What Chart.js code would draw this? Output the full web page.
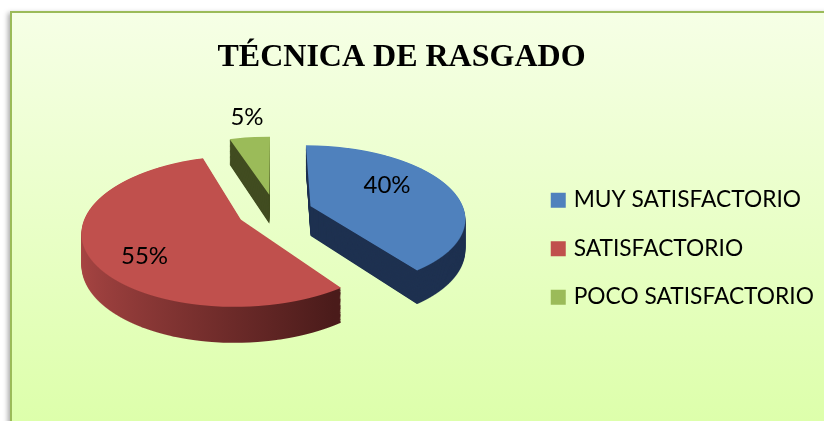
<!DOCTYPE html>
<html>
<head>
<meta charset="utf-8">
<style>html,body{margin:0;padding:0;background:#fff}canvas{display:block}</style>
<script src="https://cdn.jsdelivr.net/npm/chart.js@4"></script>
</head>
<body>
<canvas id="c" width="824" height="421"></canvas>
<script>
const categories = ['MUY SATISFACTORIO', 'SATISFACTORIO', 'POCO SATISFACTORIO'];
const values = [40, 55, 5];
const titleText = 'TÉCNICA DE RASGADO';
const faceColors = ['#4F81BD', '#C0504D', '#9BBB59'];

// perspective of the tilted pie
const view = { cx: 275, cy: 211.5, sx: 154, sy: 71.5, persp: 0.15, depth: 30, explode: 0.245 };
const labelAnchors = [[387, 185], [144.5, 256], [247, 117]];

function drawFace(ctx, arc, z, fill) {
  const R = arc.outerRadius, mid = (arc.startAngle + arc.endAngle) / 2;
  const ex = Math.cos(mid) * view.explode * R, ey = Math.sin(mid) * view.explode * R;
  const saved = arc.options;
  arc.options = Object.assign({}, saved, { backgroundColor: fill, borderWidth: 0 });
  const zd = z * view.depth;
  for (let y = 100; y < 380; y++) {
    const ry = y + 0.5 - view.cy;
    const Y = (ry - zd) / (view.sy + view.persp * ry);
    if (Math.abs(Y * R - ey) > R + 1) continue;
    const w = 1 / (1 - view.persp * Y);
    const a = view.sx * w / R;
    const d = (view.sy + view.persp * zd) * w * w / R;
    ctx.save();
    ctx.beginPath();
    ctx.rect(0, y, 824, 1);
    ctx.clip();
    ctx.setTransform(a, 0, 0, d, view.cx + a * (ex - arc.x), view.cy + ry + d * (ey - arc.y - Y * R));
    arc.draw(ctx);
    ctx.restore();
  }
  arc.options = saved;
}

const pie3d = {
  id: 'pie3d',
  beforeDraw(chart) {
    const ctx = chart.ctx;
    ctx.save();
    ctx.fillStyle = '#fff';
    ctx.fillRect(0, 0, 824, 421);
    const g = ctx.createLinearGradient(0, 12, 0, 421);
    g.addColorStop(0, '#F6FFE6');
    g.addColorStop(1, '#DDFFAB');
    ctx.shadowColor = 'rgba(0,0,0,0.35)';
    ctx.shadowBlur = 5;
    ctx.shadowOffsetX = -2;
    ctx.shadowOffsetY = 2;
    ctx.fillStyle = '#9BBB59';
    ctx.fillRect(10, 11, 830, 420);
    ctx.shadowColor = 'transparent';
    ctx.fillStyle = g;
    ctx.fillRect(12, 13, 830, 420);
    ctx.restore();
  },
  afterLayout(chart) {
    const lg = chart.legend;
    lg.left = 528.5;
    lg.top = 163;
    lg.right = 824;
    lg.bottom = 421;
  },
  beforeDatasetDraw(chart, args) {
    const ctx = chart.ctx, arcs = chart.getDatasetMeta(args.index).data;
    const R = arcs[0].outerRadius, ax = arcs[0].x;
    const redSide = ctx.createLinearGradient(ax - R, 0, ax + R * 0.55, 0);
    redSide.addColorStop(0, '#A84543');
    redSide.addColorStop(1, '#4A1B1A');
    const sideFills = ['#1E3150', redSide, '#414C20'];
    [2, 0, 1].forEach(i => {
      for (let k = 30; k > 0; k--) drawFace(ctx, arcs[i], k / 30, sideFills[i]);
      drawFace(ctx, arcs[i], 0, faceColors[i]);
    });
    return false;
  },
  afterDatasetsDraw(chart) {
    const ctx = chart.ctx;
    ctx.save();
    ctx.fillStyle = '#000';
    ctx.font = '24px Lato';
    ctx.textAlign = 'center';
    ctx.textBaseline = 'middle';
    values.forEach((v, i) => ctx.fillText(v + '%', labelAnchors[i][0], labelAnchors[i][1]));
    ctx.restore();
  }
};

new Chart(document.getElementById('c'), {
  type: 'pie',
  plugins: [pie3d],
  data: {
    labels: categories,
    datasets: [{ data: values, backgroundColor: faceColors, borderWidth: 0, clip: false }]
  },
  options: {
    responsive: false,
    animation: false,
    events: [],
    layout: { padding: { right: 21 } },
    plugins: {
      tooltip: { enabled: false },
      title: {
        display: true,
        text: titleText,
        color: '#000',
        font: { family: '"Liberation Serif"', size: 32, weight: 'bold' },
        padding: { top: 39, bottom: 10 }
      },
      legend: {
        position: 'right',
        align: 'start',
        labels: {
          boxWidth: 8,
          boxHeight: 8,
          padding: 25.75,
          color: '#000',
          font: { family: 'Lato', size: 22.75 },
          generateLabels: () => categories.map((text, i) => ({
            text, index: i, fillStyle: faceColors[i], strokeStyle: faceColors[i], lineWidth: 7, hidden: false
          }))
        }
      }
    }
  }
});
</script>
</body>
</html>
